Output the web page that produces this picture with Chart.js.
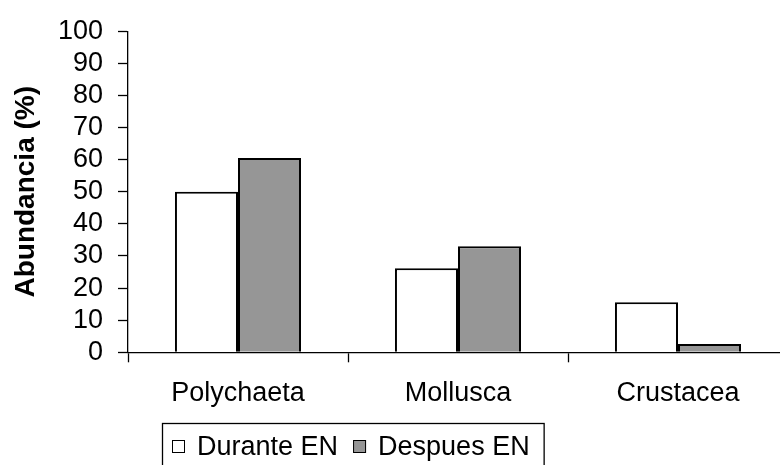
<!DOCTYPE html>
<html>
<head>
<meta charset="utf-8">
<script src="https://cdn.jsdelivr.net/npm/chart.js@4.4.1/dist/chart.umd.min.js"></script>
<style>
  html, body { margin: 0; padding: 0; background: #fff; overflow: hidden; }
  #wrap { width: 780px; height: 465px; overflow: hidden; position: relative; }
  canvas { display: block; }
</style>
</head>
<body>
<div id="wrap"><canvas id="chart" width="788" height="465"></canvas></div>
<script>
// Taxonomic groups and their relative abundance (%)
const categories = ['Polychaeta', 'Mollusca', 'Crustacea'];
const durante = [50.0, 26.2, 15.6];
const despues = [60.5, 33.0, 2.6];
const seriesNames = ['Durante EN', 'Despues EN'];
const yTicks = [0, 10, 20, 30, 40, 50, 60, 70, 80, 90, 100];

const FONT = '"Liberation Sans", Arial, sans-serif';

// Boxed legend drawn under the category labels
const boxedLegend = {
  id: 'boxedLegend',
  afterDraw(chart) {
    const ctx = chart.ctx;
    const left = 162, top = 423;
    const sq = 13, gapSq = 12, gapItem = 15;
    ctx.save();
    ctx.font = '27px ' + FONT;
    ctx.textBaseline = 'middle';
    let x = left + 10;
    const cy = 446.5;
    chart.data.datasets.forEach((ds, i) => {
      ctx.fillStyle = ds.backgroundColor;
      ctx.fillRect(x, cy - sq / 2, sq, sq);
      ctx.lineWidth = 1;
      ctx.strokeStyle = '#000';
      ctx.strokeRect(x + 0.5, cy - sq / 2 + 0.5, sq - 1, sq - 1);
      x += sq + gapSq;
      ctx.fillStyle = '#000';
      ctx.fillText(ds.label, x, cy + 1);
      x += ctx.measureText(ds.label).width;
      if (i < chart.data.datasets.length - 1) x += gapItem;
    });
    const right = x + 14;
    ctx.lineWidth = 1.3;
    ctx.strokeStyle = '#000';
    ctx.strokeRect(left + 0.5, top + 0.5, right - left, 80);
    ctx.restore();
  }
};

new Chart(document.getElementById('chart'), {
  type: 'bar',
  data: {
    labels: categories,
    datasets: [
      {
        label: seriesNames[0],
        data: durante,
        backgroundColor: '#ffffff',
        borderColor: '#000000',
        borderWidth: 2
      },
      {
        label: seriesNames[1],
        data: despues,
        backgroundColor: '#969696',
        borderColor: '#000000',
        borderWidth: 2
      }
    ]
  },
  options: {
    responsive: false,
    animation: false,
    devicePixelRatio: 1,
    layout: { padding: { top: 27, left: 0, right: 0, bottom: 0 } },
    datasets: { bar: { categoryPercentage: 0.573, barPercentage: 1.0 } },
    plugins: {
      legend: { display: false },
      tooltip: { enabled: false }
    },
    scales: {
      x: {
        grid: {
          offset: true,
          drawOnChartArea: false,
          drawTicks: true,
          tickLength: 10,
          tickColor: '#000',
          tickWidth: 1.3
        },
        border: { display: true, color: '#000', width: 1.3 },
        ticks: {
          color: '#000',
          font: { family: FONT, size: 27 },
          padding: 15,
          maxRotation: 0,
          autoSkip: false
        },
        afterFit(scale) { scale.height = 112.7; }
      },
      y: {
        min: 0,
        max: 100,
        afterBuildTicks(scale) { scale.ticks = yTicks.map(v => ({ value: v })); },
        grid: {
          drawOnChartArea: false,
          drawTicks: true,
          tickLength: 10,
          tickColor: '#000',
          tickWidth: 1.3
        },
        border: { display: true, color: '#000', width: 1.3 },
        ticks: {
          color: '#000',
          font: { family: FONT, size: 27 },
          padding: 15,
          autoSkip: false
        },
        title: {
          display: true,
          text: 'Abundancia (%)',
          color: '#000',
          font: { family: FONT, size: 28, weight: 'bold' },
          padding: { top: 9, bottom: 0 }
        },
        afterFit(scale) { scale.width = 128; }
      }
    }
  },
  plugins: [boxedLegend]
});
</script>
</body>
</html>
